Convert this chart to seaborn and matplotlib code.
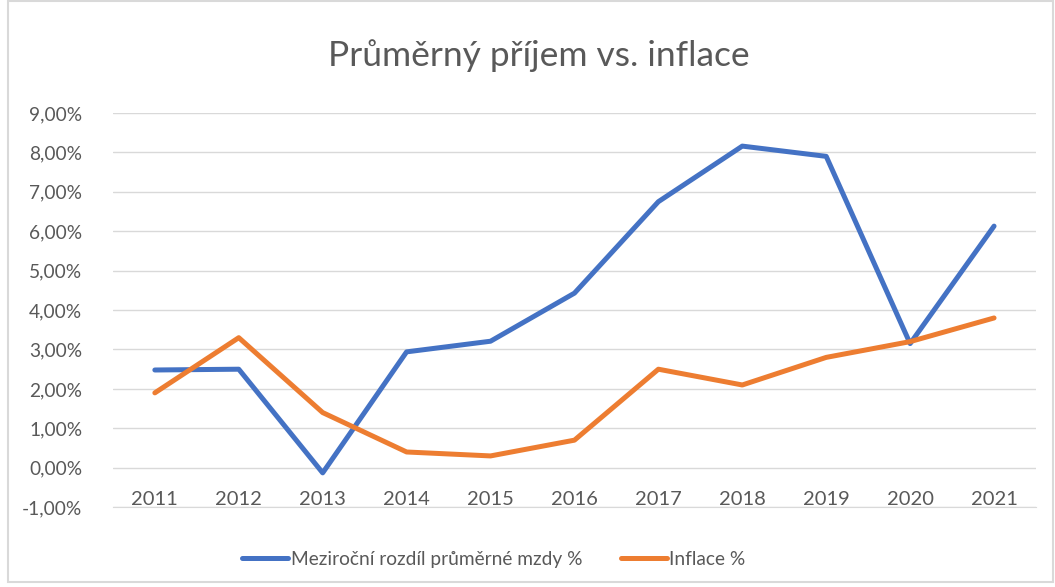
import matplotlib.pyplot as plt
import matplotlib.ticker as mticker
import seaborn as sns
import pandas as pd

years = ["2011", "2012", "2013", "2014", "2015", "2016", "2017", "2018", "2019", "2020", "2021"]
mzdy = [2.48, 2.50, -0.13, 2.94, 3.21, 4.43, 6.75, 8.16, 7.90, 3.15, 6.13]
inflace = [1.9, 3.3, 1.4, 0.4, 0.3, 0.7, 2.5, 2.1, 2.8, 3.2, 3.8]
series_names = ["Meziroční rozdíl průměrné mzdy %", "Inflace %"]

df = pd.DataFrame({
    "rok": years * 2,
    "hodnota": mzdy + inflace,
    "serie": [series_names[0]] * len(years) + [series_names[1]] * len(years),
})
df["pos"] = list(range(len(years))) * 2

sns.set_style("white")
plt.rcParams['font.family'] = ['Lato', 'DejaVu Sans']
text_col = "#595959"
colors = ["#4472C4", "#ED7D31"]

fig = plt.figure(figsize=(10.55, 5.87), dpi=100)
ax = fig.add_axes([0.107, 0.136, 0.875, 0.6715])

sns.lineplot(data=df, x="pos", y="hodnota", hue="serie", hue_order=series_names,
             palette=colors, linewidth=3.6, ax=ax, legend=False,
             solid_capstyle="round")

ax.set_xlim(-0.5, len(years) - 0.5)
ax.set_ylim(-1, 9)
ax.set_yticks(range(-1, 10))
ax.yaxis.set_major_formatter(mticker.FuncFormatter(lambda v, p: f"{v:.2f}%".replace(".", ",")))
ax.set_xticks(range(len(years)))
ax.set_xticklabels(years)
ax.grid(axis="y", color="#D9D9D9", linewidth=1)
ax.set_axisbelow(True)
for s in ["top", "right", "left"]:
    ax.spines[s].set_visible(False)
ax.spines["bottom"].set_color("#D9D9D9")
ax.spines["bottom"].set_position(("data", -1))
ax.tick_params(axis="y", length=0, labelsize=13.8, colors=text_col, pad=22)
ax.tick_params(axis="x", length=0, labelsize=14.5, colors=text_col, pad=-12)
ax.set_xlabel("")
ax.set_ylabel("")

fig.text(0.511, 0.906, "Průměrný příjem vs. inflace", ha="center", va="center",
         fontsize=25.5, color=text_col)

handles = [plt.Line2D([], [], color=c, linewidth=3.6, solid_capstyle="round")
           for c in colors]
fig.legend(handles, series_names, loc="center", bbox_to_anchor=(0.468, 0.047), ncol=2,
           frameon=False, fontsize=13.8, labelcolor=text_col, handlelength=2.4,
           handletextpad=0.15, columnspacing=2.0)

border = plt.Rectangle((0.008, 0.008), 0.99, 0.99, transform=fig.transFigure,
                       fill=False, edgecolor="#D9D9D9", linewidth=1.5)
fig.patches.append(border)

fig.savefig("out.png", dpi=100)
